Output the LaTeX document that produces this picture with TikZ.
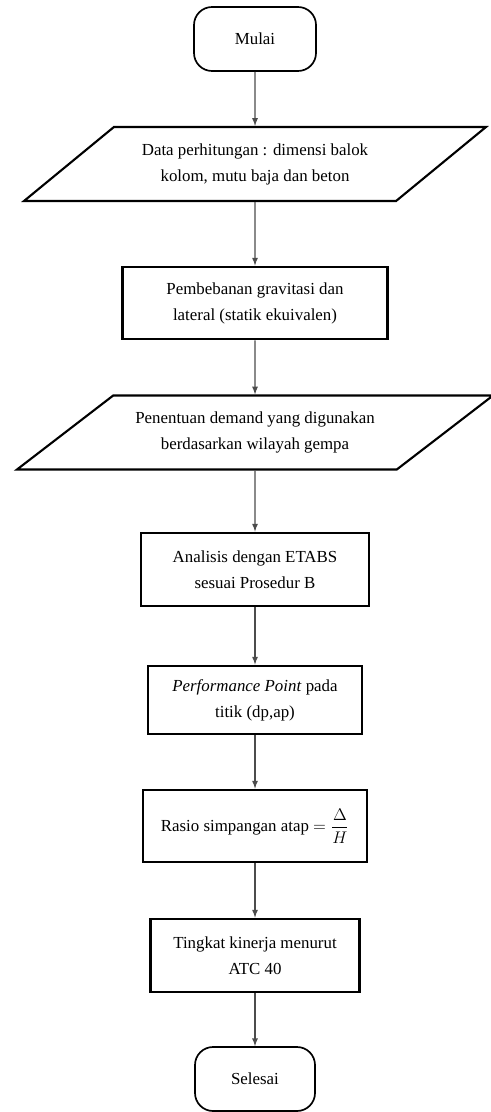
\documentclass[tikz,border=0pt]{standalone}
\usepackage{amsmath}
\usepackage{fontspec}
\setmainfont{Liberation Serif}
\usetikzlibrary{arrows,positioning,shapes.geometric}
\tikzset{%
	terminal/.style = {draw, rectangle, rounded corners=0.45cm, line width=1.2pt, minimum width=3.05cm, minimum height=1.6cm, text centered},
	process/.style  = {draw, rectangle, line width=2pt, minimum height=1.8cm, align=center},
	io/.style       = {draw, trapezium, trapezium left angle=29.4, trapezium right angle=150.6, trapezium stretches body, line width=1.5pt, minimum height=1.85cm, align=center},
	arrow/.style    = {line width=0.9pt, black!70, -latex},
}

\begin{document}
\begin{tikzpicture}[node distance=3.2cm, font=\fontsize{12}{18.5}\selectfont]
	\useasboundingbox (0,0) rectangle (12.275,-27.8);
	\node [terminal] (mulai) at (6.375,-0.975) {Mulai};
	\node [io, minimum width=11.55cm] (data) [below of=mulai, node distance=3.125cm] {Data perhitungan : dimensi balok\\kolom, mutu baja dan beton};
	\node [process, minimum width=6.625cm] (beban) [below of=data, node distance=3.475cm] {Pembebanan gravitasi dan\\lateral (statik ekuivalen)};
	\node [io, minimum width=11.9cm, trapezium left angle=27.8, trapezium right angle=152.2] (demand) [below of=beban, node distance=3.2375cm] {Penentuan demand yang digunakan\\berdasarkan wilayah gempa};
	\node [process, minimum width=5.7cm, minimum height=1.825cm] (etabs) [below of=demand, node distance=3.425cm] {Analisis dengan ETABS\\sesuai Prosedur B};
	\node [process, minimum width=5.35cm, minimum height=1.7cm] (pp) [below of=etabs, node distance=3.2625cm] {\textit{Performance Point} pada\\titik (dp,ap)};
	\node [process, minimum width=5.6cm] (rasio) [below of=pp, node distance=3.15cm] {Rasio simpangan atap $=\dfrac{\Delta}{H}$};
	\node [process, minimum width=5.225cm, minimum height=1.825cm] (tingkat) [below of=rasio, node distance=3.2375cm] {Tingkat kinerja menurut\\ATC 40};
	\node [terminal, minimum width=3cm] (selesai) [below of=tingkat, node distance=3.0875cm] {Selesai};

	\draw[arrow] (mulai) -- (data);
	\draw[arrow] (data) -- (beban);
	\draw[arrow] (beban) -- (demand);
	\draw[arrow] (demand) -- (etabs);
	\draw[arrow] (etabs) -- (pp);
	\draw[arrow] (pp) -- (rasio);
	\draw[arrow] (rasio) -- (tingkat);
	\draw[arrow] (tingkat) -- (selesai);
\end{tikzpicture}
\end{document}
